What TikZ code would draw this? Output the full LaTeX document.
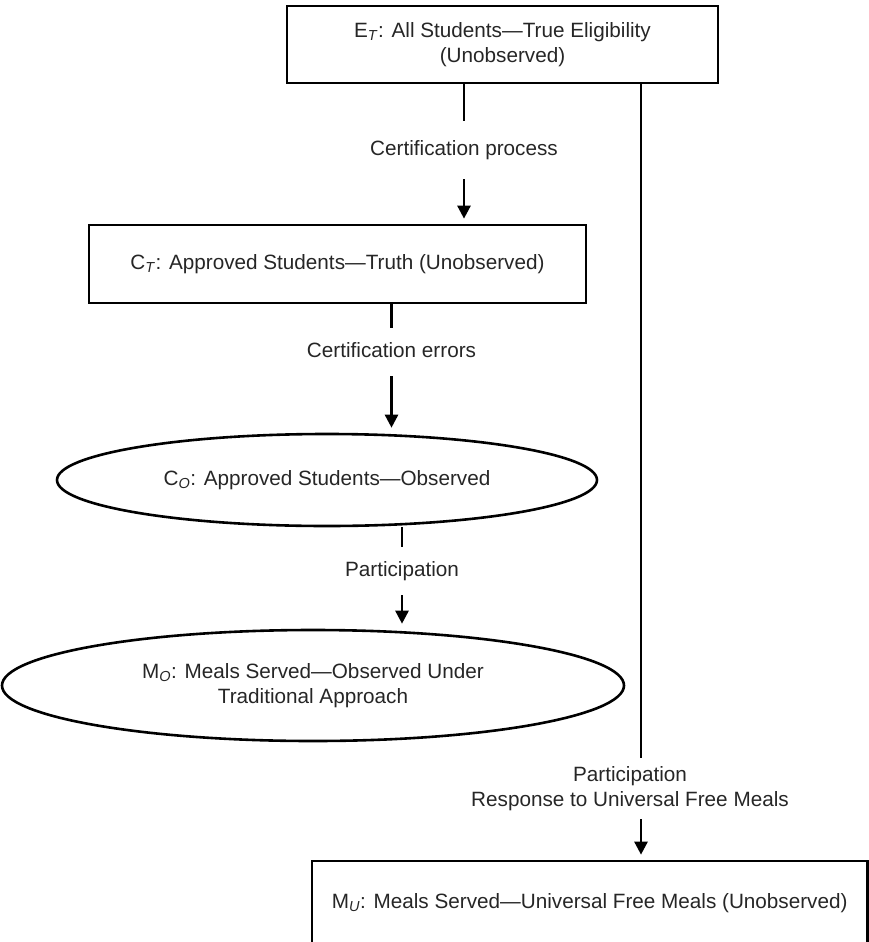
\documentclass[tikz,border=0pt]{standalone}
\usepackage{fontspec}
\setmainfont{Liberation Sans}
\usepackage{tikz}
\usetikzlibrary{shapes,arrows.meta,positioning}

\begin{document}
\begin{tikzpicture}[
    x=1pt, y=-1pt,
    font=\fontsize{20.7}{25}\selectfont,
    box/.style={
        rectangle,
        draw=black,
        line width=2.7pt,
        inner sep=0pt,
        align=center,
        text=black!85
    },
    oval/.style={
        ellipse,
        draw=black,
        line width=2.6pt,
        inner sep=0pt,
        align=center,
        text=black!85
    },
    lbl/.style={
        align=center,
        inner xsep=0pt,
        inner ysep=14pt,
        text height=15pt,
        text depth=5pt,
        text=black!85
    },
    lbltwo/.style={
        align=center,
        inner xsep=0pt,
        inner ysep=8.5pt,
        text=black!85
    },
    link/.style={line width=2.6pt},
    flow/.style={line width=2.6pt, -{Triangle[length=13pt,width=13pt]}, shorten >=5pt}
]
    \useasboundingbox (0,0) rectangle (869,942);

    % Define nodes
    \node[box, minimum width=431pt, minimum height=77pt] (ET) at (502.5,44.5)
        {E\textsubscript{\textit{T}}: All Students—True Eligibility\\(Unobserved)};
    \node[box, minimum width=497pt, minimum height=78pt] (CT) at (337.5,264)
        {C\textsubscript{\textit{T}}: Approved Students—Truth (Unobserved)};
    \node[oval, minimum width=540pt, minimum height=92pt] (CO) at (327,480)
        {C\textsubscript{\textit{O}}: Approved Students—Observed};
    \node[oval, minimum width=622pt, minimum height=111pt] (MO) at (313,685.5)
        {M\textsubscript{\textit{O}}: Meals Served—Observed Under\\Traditional Approach};
    \node[box, minimum width=555.5pt, minimum height=85pt] (MU) at (589.75,903.5)
        {M\textsubscript{\textit{U}}: Meals Served—Universal Free Meals (Unobserved)};

    % Labels on the links
    \node[lbl, inner ysep=19pt] (certproc) at (464,150) {Certification process};
    \node[lbl] (certerr) at (391.5,352) {Certification errors};
    \node[lbl] (partcp) at (402,571) {Participation};
    \node[lbltwo] (univresp) at (630,788.5)
        {Participation\\Response to Universal Free Meals};
    \coordinate (uright) at (641,0);

    % Left chain
    \draw[link] (ET.south -| certproc) -- (certproc);
    \draw[flow] (certproc) -- (certproc |- CT.north);
    \draw[link] (CT.south -| certerr) -- (certerr);
    \draw[flow] (certerr) -- (certerr |- CO.north);
    \draw[link] (CO.south -| partcp) -- (partcp);
    \draw[flow] (partcp) -- (partcp |- MO.north);

    % Universal free meals branch
    \draw[link] (ET.south -| uright) -- (uright |- univresp.north);
    \draw[flow] (uright |- univresp.south) -- (uright |- MU.north);
\end{tikzpicture}
\end{document}
